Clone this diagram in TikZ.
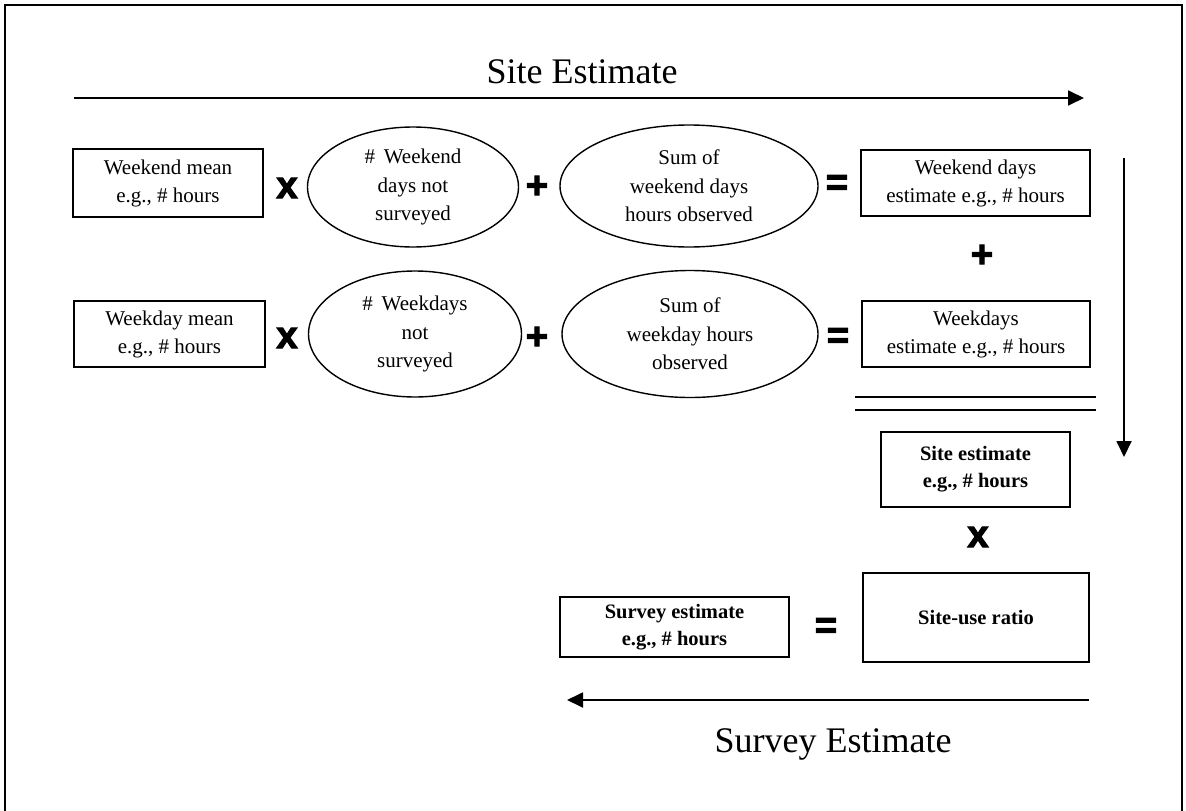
\documentclass[tikz,border=0pt]{standalone}
\usepackage{fontspec}
\setmainfont{Liberation Serif}
\newfontfamily\opfont{Liberation Sans Bold}[FakeBold=3]
\usetikzlibrary{shapes.geometric,arrows.meta}
\begin{document}
\begin{tikzpicture}[x=1pt,y=-1pt,
  box/.style={draw,line width=1.4pt,rectangle,inner sep=0pt,align=center,
    font=\fontsize{21}{28}\selectfont},
  bbox/.style={box,font=\fontsize{20.5}{27}\selectfont\bfseries},
  ell/.style={draw,line width=1.4pt,ellipse,inner sep=0pt,align=center,
    font=\fontsize{21}{28.5}\selectfont},
  op/.style={inner sep=0pt,font=\fontsize{38}{38}\opfont},
  flow/.style={line width=1.8pt,-{Triangle[length=16pt,width=15pt]}},
  title/.style={inner sep=0pt,anchor=base,font=\fontsize{36}{40}\selectfont},
  rule/.style={line width=1.8pt}
]
\useasboundingbox (0,0) rectangle (1186,811);
% frame
\draw[line width=2pt] (5,811) -- (5,5) -- (1182,5) -- (1182,811);

% top arrow and title
\coordinate (ta) at (74,98);
\coordinate (tb) at (1084,98);
\draw[flow] (ta) -- (tb);
\node[title] (tsite) at (582,83) {Site Estimate};

% row 1
\node[box,minimum width=190,minimum height=68] (wem) at (168,183) {Weekend mean\\e.g., \# hours};
\node[op] (x1) at (287,188) {x};
\node[ell,minimum width=211,minimum height=120] (e1) at (413,187) {\# \,Weekend\\days not\\surveyed};
\node[op] (p1) at (537,187) {+};
\node[ell,minimum width=258,minimum height=122] (e2) at (689,186) {Sum of\\weekend days\\hours observed};
\node[op] (q1) at (837,185) {=};
\node[box,minimum width=229,minimum height=66] (wde) at (975.5,183) {Weekend days\\estimate e.g., \# hours};

\node[op] (p3) at (982,256) {+};

% row 2
\node[box,minimum width=191,minimum height=66] (wdm) at (169.5,334) {Weekday mean\\e.g., \# hours};
\node[op] (x2) at (287,338) {x};
\node[ell,minimum width=213,minimum height=126] (e3) at (415,334) {\# \,Weekdays\\not\\surveyed};
\node[op] (p2) at (537,338) {+};
\node[ell,minimum width=256,minimum height=127] (e4) at (690,334) {Sum of\\weekday hours\\observed};
\node[op] (q2) at (838,338) {=};
\node[box,minimum width=228,minimum height=66] (wke) at (976,334) {Weekdays\\estimate e.g., \# hours};

% double rule
\coordinate (r1a) at (855,397);
\coordinate (r1b) at (1096,397);
\coordinate (r2a) at (855,410);
\coordinate (r2b) at (1096,410);
\draw[rule] (r1a) -- (r1b);
\draw[rule] (r2a) -- (r2b);

% vertical arrow
\coordinate (va) at (1124,158);
\coordinate (vb) at (1124,457);
\draw[flow] (va) -- (vb);

% site estimate
\node[bbox,minimum width=189,minimum height=75] (site) at (975.5,469.5) {Site estimate\\e.g., \# hours};
\node[op] (x3) at (978,537) {x};
\node[bbox,minimum width=226,minimum height=89] (ratio) at (976,617.5) {Site-use ratio};
\node[op] (q3) at (826,628) {=};
\node[bbox,minimum width=229,minimum height=60] (surv) at (674.5,627) {Survey estimate\\e.g., \# hours};

% bottom arrow and title
\coordinate (ba) at (1089,700);
\coordinate (bb) at (567,700);
\draw[flow] (ba) -- (bb);
\node[title] (tsurv) at (833,752) {Survey Estimate};
\end{tikzpicture}
\end{document}
